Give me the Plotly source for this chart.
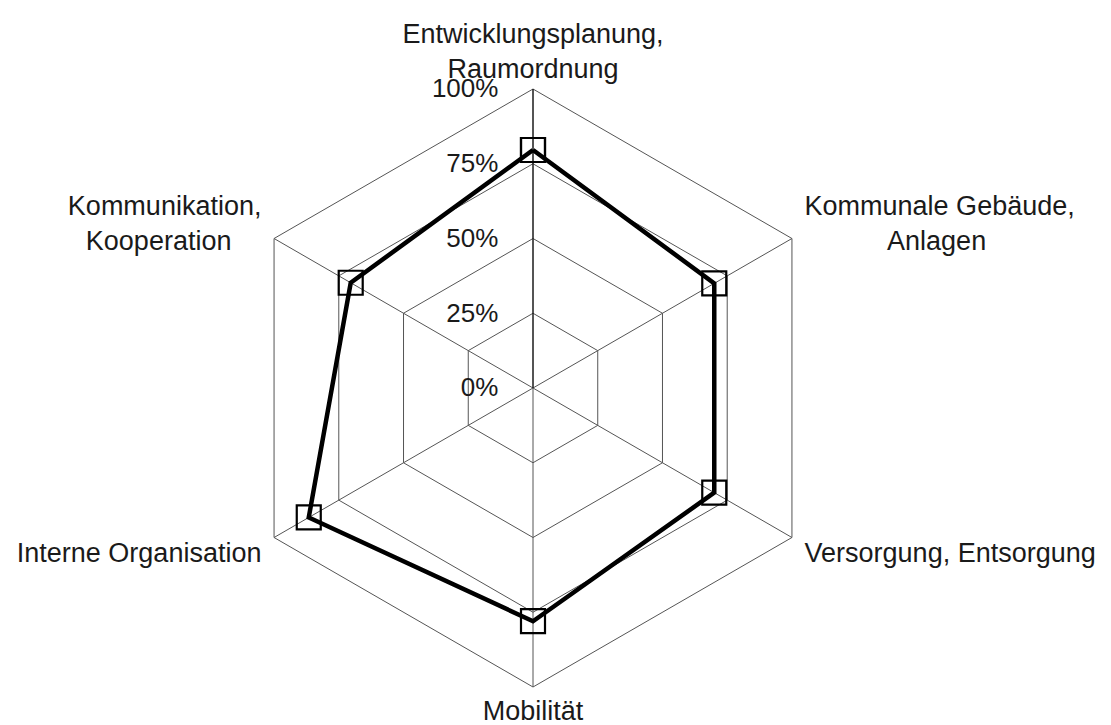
import plotly.graph_objects as go

categories = [
    "Entwicklungsplanung, Raumordnung",
    "Kommunale Gebäude, Anlagen",
    "Versorgung, Entsorgung",
    "Mobilität",
    "Interne Organisation",
    "Kommunikation, Kooperation",
]
NB = "\u00a0"
category_labels = [
    "Entwicklungsplanung,<br>Raumordnung",
    NB + "Kommunale Gebäude,<br>" + NB * 12 + "Anlagen",
    NB + "Versorgung, Entsorgung",
    "Mobilität",
    "Interne Organisation" + NB,
    "Kommunikation," + NB + "<br>Kooperation" + NB * 5,
]
values = [79.6, 70.0, 70.0, 78.0, 86.6, 70.4]
tick_vals = [0, 25, 50, 75, 100]
tick_text = ["0%", "25%", "50%", "75%", "100%"]

theta = categories + categories[:1]
r = values + values[:1]

fig = go.Figure()
fig.add_trace(go.Scatterpolar(
    r=r, theta=theta, mode="lines+markers",
    line=dict(color="black", width=4.5),
    marker=dict(symbol="square-open", size=24, color="black", line=dict(width=2.2, color="black")),
    showlegend=False,
))

font_family = "Liberation Sans, Arial, sans-serif"
# the page body has an 8px margin, so the figure is sized to fit the window
W, H = 1103, 717
fig.update_layout(
    width=W, height=H,
    margin=dict(l=0, r=0, t=0, b=0),
    paper_bgcolor="white",
    font=dict(family=font_family, size=27, color="#1a1a1a"),
    polar=dict(
        domain=dict(x=[226/W, 824/W], y=[1-679/H, 1-81/H]),
        bgcolor="white",
        gridshape="linear",
        angularaxis=dict(
            direction="clockwise", rotation=90,
            tickvals=categories, ticktext=category_labels,
            showline=True, linecolor="#555555", linewidth=1,
            gridcolor="#555555", gridwidth=1,
            ticks="", tickfont=dict(size=27, color="#1a1a1a"),
        ),
        radialaxis=dict(
            range=[0, 100], angle=90, side="counterclockwise",
            tickvals=tick_vals, ticktext=tick_text,
            showline=True, linecolor="black", linewidth=1,
            gridcolor="#555555", gridwidth=1,
            ticks="outside", ticklen=25, tickcolor="rgba(0,0,0,0)",
            tickfont=dict(size=26, color="#1a1a1a"),
            tickangle=90,
        ),
    ),
)

fig.write_html("out.html")
